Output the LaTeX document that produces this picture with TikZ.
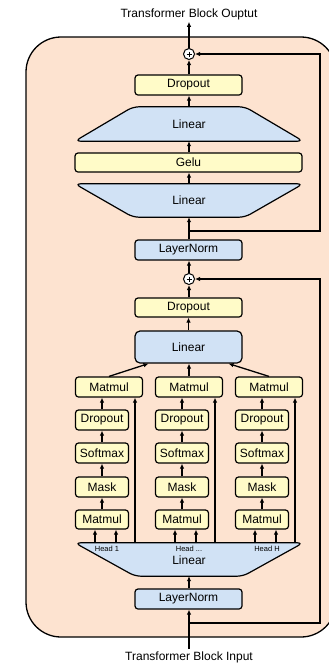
\documentclass[tikz,border=0pt]{standalone}
\usepackage{fontspec}
\setmainfont{Liberation Sans}
\usetikzlibrary{shapes.geometric, arrows.meta, positioning, calc}
\definecolor{cPeach}{RGB}{253,227,208}
\definecolor{cYellow}{RGB}{255,251,200}
\definecolor{cBlue}{RGB}{209,226,245}
\tikzset{
	ybox/.style ={rectangle, draw=black, line width=1.2pt, rounded corners=3pt, fill=cYellow, inner sep=0pt, minimum width=107, minimum height=20},
	bbox/.style ={ybox, fill=cBlue},
	sbox/.style ={ybox, minimum width=53},
	trapholder/.style={rectangle, inner sep=0pt, minimum width=228, minimum height=34},
	trapline/.style={draw=black, line width=1.2pt, rounded corners=6pt, fill=cBlue},
	addc/.style ={circle, draw=black, line width=1pt, fill=white, minimum size=11, inner sep=0pt,
		path picture={\draw[line width=0.7pt] ([yshift=-3pt]path picture bounding box.north) -- ([yshift=3pt]path picture bounding box.south)
			([xshift=3pt]path picture bounding box.west) -- ([xshift=-3pt]path picture bounding box.east);}},
	headlbl/.style={font=\fontsize{7.5}{8}\selectfont},
	lbl/.style  ={inner sep=2pt},
	arr/.style  ={-{Latex[length=5pt,width=4.5pt]}, line width=1.3pt},
}

\begin{document}
\begin{tikzpicture}[x=1pt, y=-1pt, font=\fontsize{12}{14}\selectfont]
	\useasboundingbox (0,0) rectangle (329,665);
	\clip (0,0) rectangle (329,665);
	\draw[line width=1.3pt, fill=cPeach, rounded corners=35pt] (26,37) rectangle (336,637);

	% feed-forward half
	\node[lbl] (outlbl) at (189,14) {Transformer Block Ouptut};
	\node[addc] (plus1) at (189,54) {};
	\node[ybox] (drop1) at (188.5,85) {Dropout};
	\node[trapholder] (lin1) at (189,124) {};
	\draw[trapline] ([xshift=-56pt]lin1.north) -- ([xshift=56pt]lin1.north) -- (lin1.south east) -- (lin1.south west) -- cycle;
	\node (lin1txt) at (lin1) {Linear};
	\node[ybox, minimum width=227, minimum height=19] (gelu) at (188.5,162.5) {Gelu};
	\node[trapholder, minimum height=33] (lin2) at (189,200.5) {};
	\draw[trapline] (lin2.north west) -- (lin2.north east) -- ([xshift=56pt]lin2.south) -- ([xshift=-56pt]lin2.south) -- cycle;
	\node (lin2txt) at (lin2) {Linear};
	\coordinate (j1) at (189,231);
	\coordinate (rr1) at (320,231);
	\node[bbox] (ln1) at (188.5,250) {LayerNorm};

	% attention half
	\node[addc] (plus2) at (189,279) {};
	\node[ybox, minimum height=19] (drop2) at (188.5,307.5) {Dropout};
	\node[bbox, minimum height=32, rounded corners=5pt] (lin3) at (188.5,347) {Linear};
	\foreach \i/\x in {1/102, 2/182, 3/262} {
		\node[ybox, minimum width=67] (mmt\i) at (\x+7,387) {Matmul};
		\node[sbox] (drp\i) at (\x,420) {Dropout};
		\node[sbox] (smx\i) at (\x,453) {Softmax};
		\node[sbox] (msk\i) at (\x,487) {Mask};
		\node[sbox, minimum height=19] (mmb\i) at (\x,519.5) {Matmul};
	}
	\node[trapholder, minimum height=33] (lin4) at (189,559.5) {};
	\draw[trapline] (lin4.north west) -- (lin4.north east) -- ([xshift=54pt]lin4.south) -- ([xshift=-54pt]lin4.south) -- cycle;
	\node (lin4txt) at (189,560) {Linear};
	\node[headlbl] (hd1) at (107,549) {Head 1};
	\node[headlbl] (hd2) at (189,549) {Head ...};
	\node[headlbl] (hd3) at (267,549) {Head H};
	\node[bbox] (ln2) at (188.5,599) {LayerNorm};
	\coordinate (j2) at (189,623);
	\coordinate (rr2) at (320,623);
	\node[lbl] (inlbl) at (189,657) {Transformer Block Input};

	% connections
	\draw[arr] (inlbl.north) -- (ln2.south -| inlbl.north);
	\draw[arr] (j2) -- (rr2) |- (plus2.east);
	\draw[arr] (ln2.north -| j2) -- (lin4.south -| j2);
	\foreach \i in {1,2,3} {
		\draw[arr] ([xshift=-7pt]mmb\i.south |- lin4.north) -- ([xshift=-7pt]mmb\i.south);
		\draw[arr] ([xshift=14pt]mmb\i.south |- lin4.north) -- ([xshift=14pt]mmb\i.south);
		\draw[arr] ([xshift=26pt]mmt\i.south |- lin4.north) -- ([xshift=26pt]mmt\i.south);
		\draw[arr] (mmb\i) -- (msk\i);
		\draw[arr] (msk\i) -- (smx\i);
		\draw[arr] (smx\i) -- (drp\i);
		\draw[arr] (drp\i.north) -- (drp\i.north |- mmt\i.south);
	}
	\draw[arr] (mmt1.north) -- ([xshift=-40pt]lin3.south);
	\draw[arr] (mmt2.north) -- (mmt2.north |- lin3.south);
	\draw[arr] (mmt3.north) -- ([xshift=40pt]lin3.south);
	\draw[arr] (lin3) -- (drop2);
	\draw[arr] (drop2.north -| plus2) -- (plus2);
	\draw[arr] (plus2) -- (ln1.south -| plus2);
	\draw[arr] (j1) -- (rr1) |- (plus1.east);
	\draw[arr] (ln1.north -| j1) -- (lin2.south -| j1);
	\draw[arr] (lin2.north -| j1) -- (gelu.south -| j1);
	\draw[arr] (gelu.north -| j1) -- (lin1.south -| j1);
	\draw[arr] (lin1.north -| j1) -- (drop1.south -| j1);
	\draw[arr] (drop1.north -| plus1) -- (plus1);
	\draw[arr] (plus1) -- (outlbl.south -| plus1);
\end{tikzpicture}
\end{document}
